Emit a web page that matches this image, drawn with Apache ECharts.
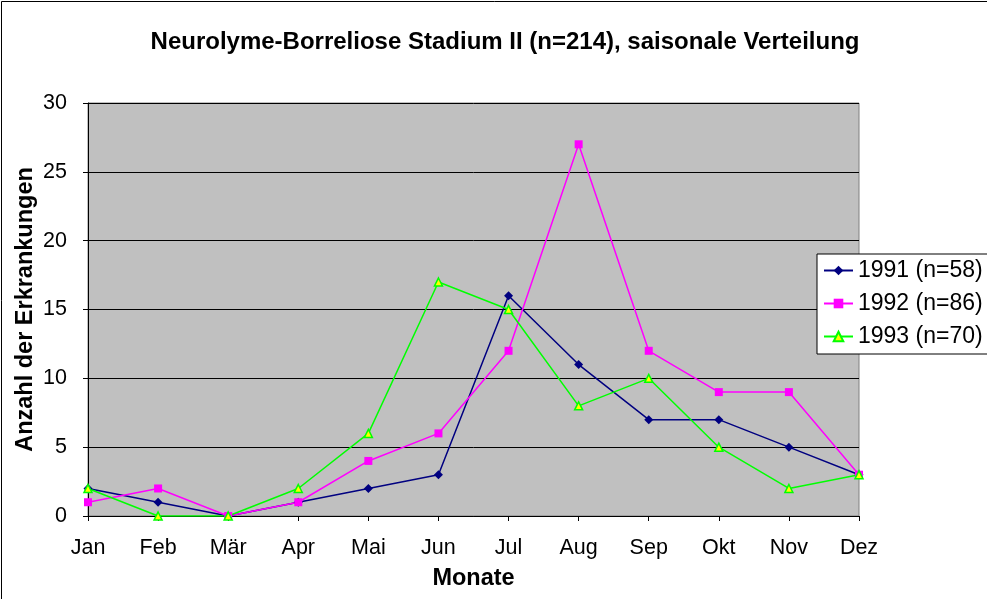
<!DOCTYPE html>
<html lang="de">
<head>
    <meta charset="utf-8">
    <title>Neurolyme-Borreliose</title>
    <script src="https://cdn.jsdelivr.net/npm/echarts@6/dist/echarts.min.js"></script>
    <style>
        html, body { margin: 0; height: 100%; background: #fff; }
    </style>
</head>
<body>
    <div id="main" style="width:987px;height:599px;"></div>
    <script type="text/javascript">
        // Daten
        var months = ['Jan', 'Feb', 'Mär', 'Apr', 'Mai', 'Jun', 'Jul', 'Aug', 'Sep', 'Okt', 'Nov', 'Dez'];
        var y1991 = [2, 1, 0, 1, 2, 3, 16, 11, 7, 7, 5, 3];
        var y1992 = [1, 2, 0, 1, 4, 6, 12, 27, 12, 9, 9, 3];
        var y1993 = [2, 0, 0, 2, 6, 17, 15, 8, 10, 5, 2, 3];
        var seriesNames = ['1991 (n=58)', '1992 (n=86)', '1993 (n=70)'];

        var font = 'Arial, "Liberation Sans", sans-serif';
        var myChart = echarts.init(document.getElementById('main'));

        var option = {
            animation: false,
            backgroundColor: '#fff',
            textStyle: { fontFamily: font },
            title: {
                text: 'Neurolyme-Borreliose Stadium II (n=214), saisonale Verteilung',
                left: 500,
                textAlign: 'center',
                top: 25,
                textStyle: { fontSize: 24, fontWeight: 'bold', color: '#000', fontFamily: font }
            },
            legend: {
                orient: 'vertical',
                left: 817,
                top: 254,
                padding: [5, 10, 6, 6],
                itemGap: 10,
                itemWidth: 29,
                itemHeight: 12,
                backgroundColor: '#fff',
                borderColor: '#000',
                borderWidth: 1,
                borderRadius: 0,
                textStyle: { fontSize: 23, color: '#000', fontFamily: font },
                data: seriesNames
            },
            grid: {
                left: 88, right: 128, top: 103, bottom: 83,
                show: true,
                backgroundColor: '#c0c0c0',
                borderColor: '#808080',
                borderWidth: 1
            },
            xAxis: {
                type: 'category',
                data: months,
                boundaryGap: false,
                name: 'Monate',
                nameLocation: 'middle',
                nameGap: 51,
                nameTextStyle: { fontSize: 23.5, fontWeight: 'bold', color: '#000' },
                axisLine: { lineStyle: { color: '#000', width: 1 } },
                axisTick: { alignWithLabel: true, length: 5, lineStyle: { color: '#000' } },
                axisLabel: { fontSize: 21.5, color: '#000', margin: 21, interval: 0 },
                splitLine: { show: false }
            },
            yAxis: {
                type: 'value',
                min: 0,
                max: 30,
                interval: 5,
                name: 'Anzahl der Erkrankungen',
                nameLocation: 'middle',
                nameGap: 50,
                nameMoveOverlap: false,
                nameTextStyle: { fontSize: 23.5, fontWeight: 'bold', color: '#000' },
                axisLine: { show: true, lineStyle: { color: '#000' } },
                axisTick: { show: true, length: 5, lineStyle: { color: '#000' } },
                axisLabel: { fontSize: 21.5, color: '#000', margin: 21 },
                splitLine: { lineStyle: { color: '#000', width: 1 } }
            },
            series: [
                {
                    name: seriesNames[0],
                    type: 'line',
                    data: y1991,
                    symbol: 'diamond',
                    symbolSize: 9,
                    color: '#000080',
                    lineStyle: { color: '#000080', width: 1.5 },
                    itemStyle: { color: '#000080' }
                },
                {
                    name: seriesNames[1],
                    type: 'line',
                    data: y1992,
                    symbol: 'rect',
                    symbolSize: 8,
                    color: '#ff00ff',
                    lineStyle: { color: '#ff00ff', width: 1.5 },
                    itemStyle: { color: '#ff00ff' }
                },
                {
                    name: seriesNames[2],
                    type: 'line',
                    data: y1993,
                    symbol: 'triangle',
                    symbolSize: 8,
                    color: '#00ff00',
                    lineStyle: { color: '#00ff00', width: 1.5 },
                    itemStyle: { color: '#ffff00', borderColor: '#00ff00', borderWidth: 1.5 }
                }
            ],
            graphic: [
                {
                    type: 'rect',
                    shape: { x: 1.5, y: 1.5, width: 990, height: 600 },
                    style: { fill: null, stroke: '#000', lineWidth: 1 },
                    silent: true
                }
            ]
        };

        myChart.setOption(option);
    </script>
</body>
</html>
